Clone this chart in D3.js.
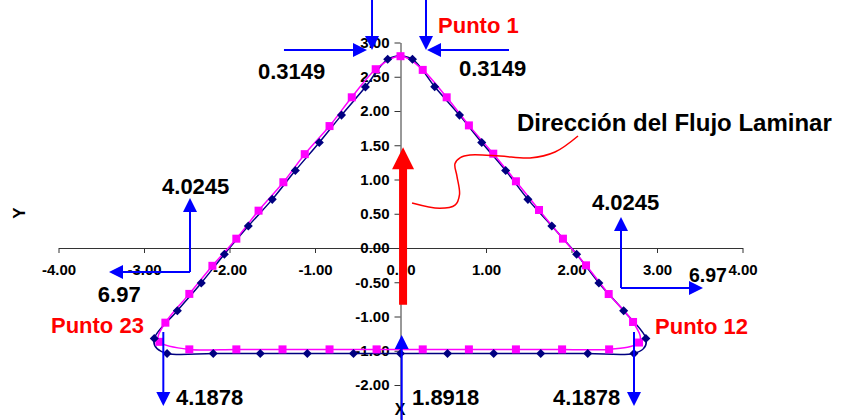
<!DOCTYPE html>
<html>
<head>
<meta charset="utf-8">
<script src="https://cdn.jsdelivr.net/npm/d3@7"></script>
<style>
  html, body { margin: 0; padding: 0; background: #fff; }
  svg { display: block; font-family: "Liberation Sans", Arial, sans-serif; }
</style>
</head>
<body>
<svg id="chart" width="849" height="420"></svg>
<script>
// ---------- data ----------
const xTicks = [-4, -3, -2, -1, 0, 1, 2, 3, 4];
const yTicks = [-2, -1.5, -1, -0.5, 0, 0.5, 1, 1.5, 2, 2.5, 3];

// Series 1 (navy diamonds) - closed contour
const navyX = [0.14, 0.40, 0.69, 0.95, 1.23, 1.49, 1.77, 2.06, 2.32, 2.61, 2.87,
               2.73, 2.19, 1.64, 1.09, 0.55, 0, -0.55, -1.09, -1.64, -2.19, -2.73,
               -2.88, -2.61, -2.33, -2.06, -1.78, -1.50, -1.23, -0.95, -0.69, -0.41, -0.15];
const navyY = [2.755, 2.355, 1.94, 1.54, 1.13, 0.71, 0.32, -0.09, -0.51, -0.915, -1.32,
               -1.54, -1.54, -1.54, -1.54, -1.54, -1.54, -1.54, -1.54, -1.54, -1.54, -1.54,
               -1.32, -0.915, -0.51, -0.09, 0.32, 0.71, 1.13, 1.54, 1.94, 2.35, 2.755];

// Series 2 (magenta squares) - closed contour
const magX = [0, 0.26, 0.54, 0.80, 1.085, 1.35, 1.62, 1.90, 2.17, 2.435, 2.72, 2.79,
              2.44, 1.89, 1.35, 0.80, 0.26, -0.28, -0.83, -1.38, -1.92, -2.47,
              -2.82, -2.75, -2.47, -2.20, -1.92, -1.66, -1.37, -1.12, -0.83, -0.57, -0.29];
const magY = [2.80, 2.60, 2.20, 1.79, 1.377, 0.974, 0.555, 0.136, -0.253, -0.672, -1.08, -1.38,
              -1.48, -1.48, -1.48, -1.48, -1.48, -1.48, -1.48, -1.48, -1.48, -1.48,
              -1.37, -1.09, -0.67, -0.26, 0.136, 0.545, 0.96, 1.37, 1.78, 2.20, 2.61];

// Blue dimension arrows: [x0, y0, x1(tip), y1(tip)] in data units
const blueArrows = [
  [-0.333, 3.65, -0.333, 2.89],
  [-1.363, 2.89, -0.392, 2.89],
  [0.298, 3.65, 0.298, 2.89],
  [1.269, 2.89, 0.310, 2.89],
  [-2.462, -0.350, -2.462, 0.730],
  [-2.462, -0.350, -3.409, -0.350],
  [2.579, -0.584, 2.579, 0.453],
  [2.579, -0.584, 3.538, -0.584],
  [-2.774, -1.226, -2.774, -2.307],
  [2.731, -1.226, 2.731, -2.307],
  [0.014, -2.60, 0.014, -1.27]
];

// Flow direction arrow (red) : x, bottom y, tip y
const flowArrow = { x: 0.03, y0: -0.83, y1: 1.47 };

// Leader curve from label to flow arrow
const leaderX = [0.135, 0.46, 0.637, 0.69, 0.66, 0.637, 0.70, 0.813, 1.164, 1.515, 1.807, 2.076];
const leaderY = [0.657, 0.58, 0.625, 0.78, 1.05, 1.23, 1.32, 1.358, 1.343, 1.314, 1.401, 1.635];

// Annotation texts: text, x, y (data units, start / baseline)
const labelTexts = ["0.3149", "0.3149", "Punto 1", "Dirección del Flujo Laminar",
  "4.0245", "6.97", "4.0245", "6.97", "Punto 23", "Punto 12", "4.1878", "4.1878", "1.8918"];
const labelX = [-1.667, 0.684, 0.439, 1.363, -2.789, -3.540, 2.240, 3.374, -4.088, 2.977, -2.626, 1.784, 0.135];
const labelY = [2.467, 2.511, 3.139, 1.708, 0.788, -0.788, 0.555, -0.496, -1.241, -1.255, -2.292, -2.292, -2.292];
const labelKind = ["num", "num", "red", "title", "num", "num", "num", "small", "red", "red", "num", "num", "num"];

// ---------- drawing ----------
const svg = d3.select("#chart");
const x = d3.scaleLinear().domain([-4, 4]).range([58.5, 742.5]);
const y = d3.scaleLinear().domain([-2.5, 3]).range([419.25, 42.5]);

const fmt = d => d.toFixed(2);

// x axis through y=0
const gx = svg.append("g")
  .attr("transform", `translate(0,${y(0)})`)
  .call(d3.axisBottom(x).tickValues(xTicks).tickFormat(fmt).tickSizeInner(5).tickSizeOuter(0).tickPadding(11));
// y axis through x=0
const gy = svg.append("g")
  .attr("transform", `translate(${x(0)},0)`)
  .call(d3.axisLeft(y).tickValues(yTicks).tickFormat(fmt).tickSizeInner(6).tickSizeOuter(0).tickPadding(5));

[gx, gy].forEach(g => {
  g.attr("font-size", 15).attr("font-family", "Liberation Sans, Arial, sans-serif");
  g.select(".domain").attr("stroke", "#333").attr("stroke-width", 1);
  g.selectAll(".tick line").attr("stroke", "#333");
  g.selectAll(".tick text").attr("fill", "#000").attr("font-size", 15).attr("font-weight", "bold");
});

// axis titles
svg.append("text").attr("x", 400).attr("y", 415).attr("text-anchor", "middle")
  .attr("font-size", 16).attr("font-weight", "bold").text("X");
svg.append("text").attr("transform", "translate(25,213) rotate(-90)").attr("text-anchor", "middle")
  .attr("font-size", 17).attr("font-weight", "bold").text("Y");

// series
const navyPts = navyX.map((v, i) => [v, navyY[i]]);
const magPts = magX.map((v, i) => [v, magY[i]]);
const line = d3.line().x(d => x(d[0])).y(d => y(d[1])).curve(d3.curveCardinalClosed.tension(0));

svg.append("path").datum(navyPts).attr("d", line).attr("fill", "none")
  .attr("stroke", "#000080").attr("stroke-width", 1.5);
svg.append("path").datum(magPts).attr("d", line).attr("fill", "none")
  .attr("stroke", "#FF00FF").attr("stroke-width", 1.5);

svg.append("g").selectAll("rect").data(magPts).join("rect")
  .attr("x", d => x(d[0]) - 4).attr("y", d => y(d[1]) - 4)
  .attr("width", 8).attr("height", 8).attr("fill", "#FF00FF");

const diamond = d3.symbol().type(d3.symbolDiamond2).size(52);
svg.append("g").selectAll("path").data(navyPts).join("path")
  .attr("transform", d => `translate(${x(d[0])},${y(d[1])})`)
  .attr("d", diamond).attr("fill", "#000080");

// leader curve
const leaderPts = leaderX.map((v, i) => [v, leaderY[i]]);
svg.append("path").datum(leaderPts)
  .attr("d", d3.line().x(d => x(d[0])).y(d => y(d[1])).curve(d3.curveCatmullRom))
  .attr("fill", "none").attr("stroke", "#FF0000").attr("stroke-width", 1.5);

// flow arrow
{
  const cx = x(flowArrow.x), yb = y(flowArrow.y0), yt = y(flowArrow.y1);
  const headLen = 22, headW = 11, shaftW = 4;
  svg.append("path")
    .attr("d", `M${cx - shaftW},${yb} L${cx - shaftW},${yt + headLen} L${cx - headW},${yt + headLen} L${cx},${yt} L${cx + headW},${yt + headLen} L${cx + shaftW},${yt + headLen} L${cx + shaftW},${yb} Z`)
    .attr("fill", "#FF0000");
}

// blue arrows
const ga = svg.append("g");
blueArrows.forEach(a => {
  const x0 = x(a[0]), y0 = y(a[1]), x1 = x(a[2]), y1 = y(a[3]);
  const dx = x1 - x0, dy = y1 - y0, L = Math.hypot(dx, dy);
  const ux = dx / L, uy = dy / L, px = -uy, py = ux;
  const hl = 14, hw = 7;
  const bx = x1 - ux * hl, by = y1 - uy * hl;
  ga.append("line").attr("x1", x0).attr("y1", y0).attr("x2", bx).attr("y2", by)
    .attr("stroke", "#0000FF").attr("stroke-width", 2);
  ga.append("path")
    .attr("d", `M${x1},${y1} L${bx + px * hw},${by + py * hw} L${bx - px * hw},${by - py * hw} Z`)
    .attr("fill", "#0000FF");
});

// annotation texts
labelTexts.forEach((t, i) => {
  const k = labelKind[i];
  svg.append("text")
    .attr("x", x(labelX[i])).attr("y", y(labelY[i]))
    .attr("font-size", k === "title" ? 24 : (k === "small" ? 19.5 : 22))
    .attr("font-weight", "bold")
    .attr("fill", k === "red" ? "#FF0000" : "#000")
    .text(t);
});
</script>
</body>
</html>
